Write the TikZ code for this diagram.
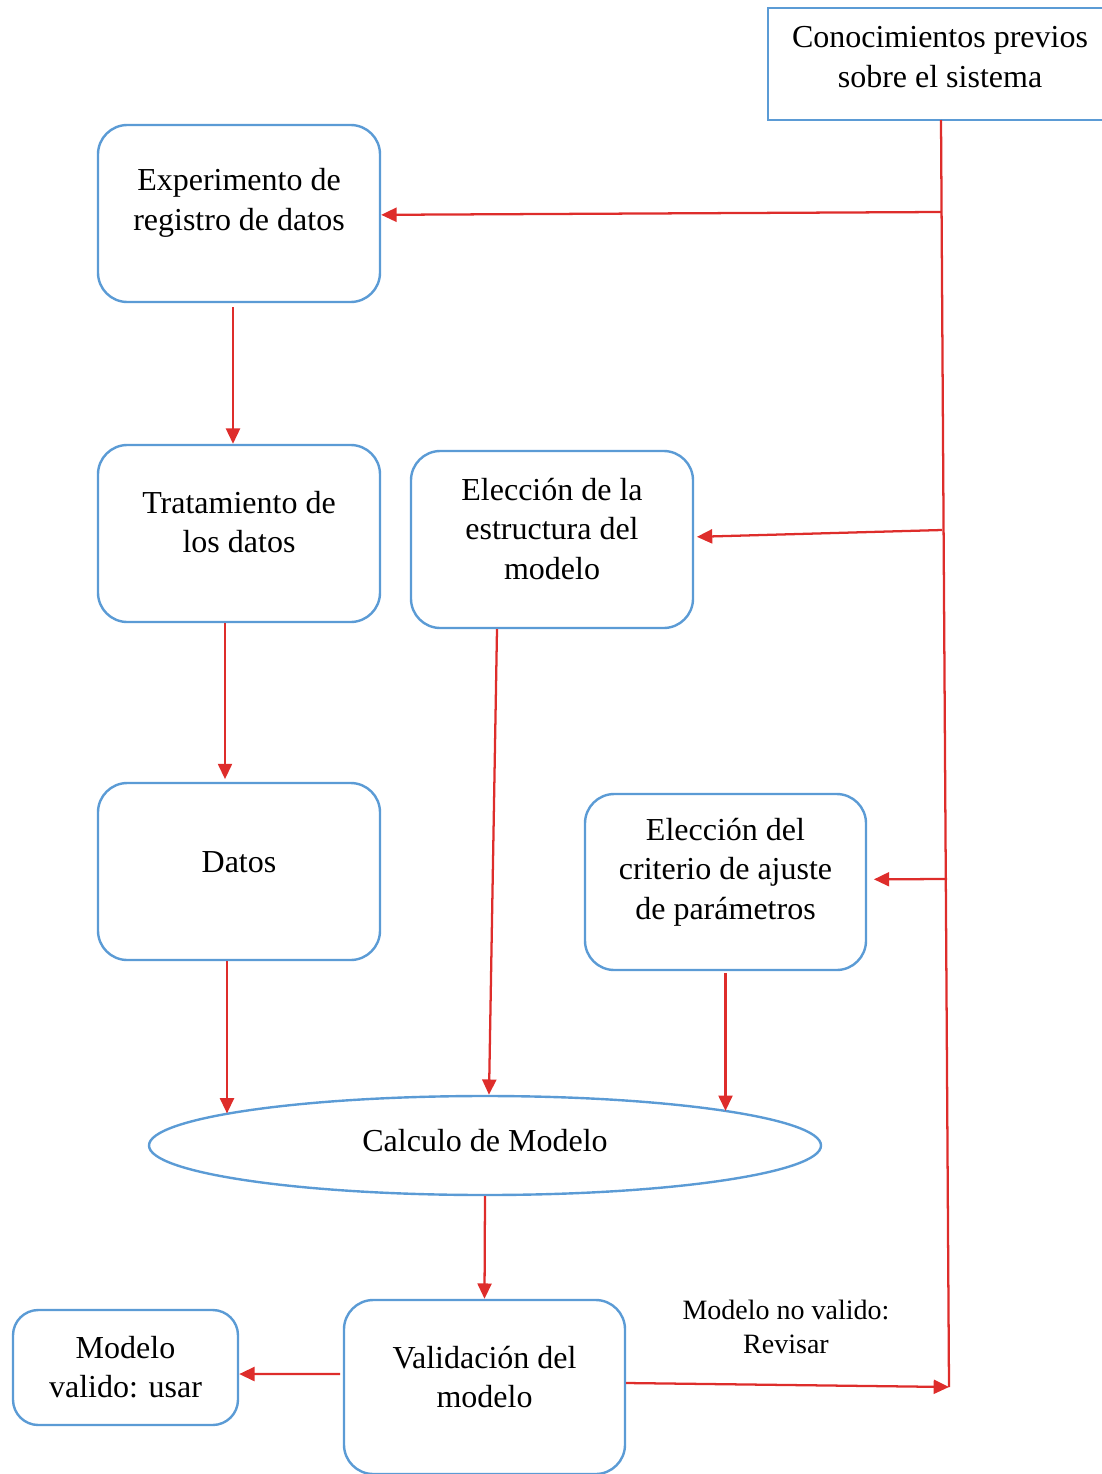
\documentclass[tikz,border=0pt]{standalone}
\usepackage{fontspec}
\setmainfont{Liberation Serif}
\usetikzlibrary{shapes.geometric,arrows.meta}
\definecolor{boxblue}{HTML}{5B9BD5}
\definecolor{arrred}{HTML}{DE2D2B}
\begin{document}
\begin{tikzpicture}[x=0.75pt,y=-0.75pt,
  box/.style={draw=boxblue,line width=1.8pt,rounded corners=22pt,minimum width=211.5pt,minimum height=132.75pt,inner sep=0pt},
  txt/.style={align=center,font=\fontsize{24}{29.5}\selectfont,inner sep=0pt},
  redline/.style={draw=arrred,line width=1.7pt},
  arrow/.style={redline,-{Triangle[length=11.5pt,width=10.5pt]}}]
\useasboundingbox (0,0) rectangle (1102,1474);
% nodes
\node[draw=boxblue,line width=1.8pt,minimum width=256pt,minimum height=84pt,inner sep=0pt] (top) at (938.5,64) {};
\node[txt] at (940,57) {Conocimientos previos\\sobre el sistema};
\node[box] (exp) at (239,213.5) {};
\node[txt] at (239,203) {Experimento de\\registro de datos};
\node[box] (trat) at (239,533.5) {};
\node[txt] at (239,522) {Tratamiento de\\los datos};
\node[box] (estr) at (552,539.5) {};
\node[txt] at (552,529) {Elección de la\\estructura del\\modelo};
\node[box] (datos) at (239,871.5) {};
\node[txt] at (239,862) {Datos};
\node[box,minimum width=210.75pt,minimum height=132pt] (crit) at (725.5,882) {};
\node[txt] at (725.5,872) {Elección del\\criterio de ajuste\\de parámetros};
\node[draw=boxblue,line width=1.8pt,ellipse,minimum width=504pt,minimum height=74.25pt,inner sep=0pt] (calc) at (485,1145.5) {};
\node[txt] at (485,1141) {Calculo de Modelo};
\node[box,minimum width=210.75pt,minimum height=130.5pt] (valid) at (484.5,1387) {};
\node[txt] at (484.5,1377) {Validación del\\modelo};
\node[box,rounded corners=19pt,minimum width=168.75pt,minimum height=86.25pt] (usar) at (125.5,1367.5) {};
\node[txt] at (125.5,1367) {Modelo\\valido: usar};
\node[align=center,font=\fontsize{21}{25.5}\selectfont,inner sep=0pt] (lab) at (786,1327) {Modelo no valido:\\Revisar};
% coordinates on the feedback line
\coordinate (kTop) at (941,120);
\coordinate (kBot) at (949,1387);
\coordinate (k1) at (941,212);
\coordinate (k2) at (942,530);
\coordinate (k3) at (947,879);
% connectors
\draw[redline] (kTop) -- (kBot);
\draw[arrow] (k1) -- ([yshift=-1pt]exp.east);
\draw[arrow] (k2) -- ([xshift=2pt,yshift=2pt]estr.east);
\draw[arrow] (k3) -- ([xshift=5pt,yshift=2pt]crit.east);
\draw[arrow] ([yshift=3pt]valid.east) -- (kBot);
\draw[arrow] ([xshift=-4.5pt,yshift=-3pt]exp.south) -- ([xshift=-4.5pt]trat.north);
\draw[arrow] ([xshift=-10.5pt]trat.south) -- ([xshift=-10.5pt,yshift=2pt]datos.north);
\draw[arrow] ([xshift=-9pt]datos.south) coordinate (d1) -- (d1 |- calc.173);
\draw[arrow] ([xshift=-41.25pt]estr.south) -- ([xshift=3pt]calc.north);
\draw[arrow] ([yshift=-1.5pt]crit.south) coordinate (c1) -- (c1 |- calc.8);
\draw[arrow] (calc.south) -- (valid.north);
\draw[arrow] ([xshift=-2pt,yshift=9.75pt]valid.west) -- ([yshift=-4.9pt]usar.east);
\end{tikzpicture}
\end{document}
